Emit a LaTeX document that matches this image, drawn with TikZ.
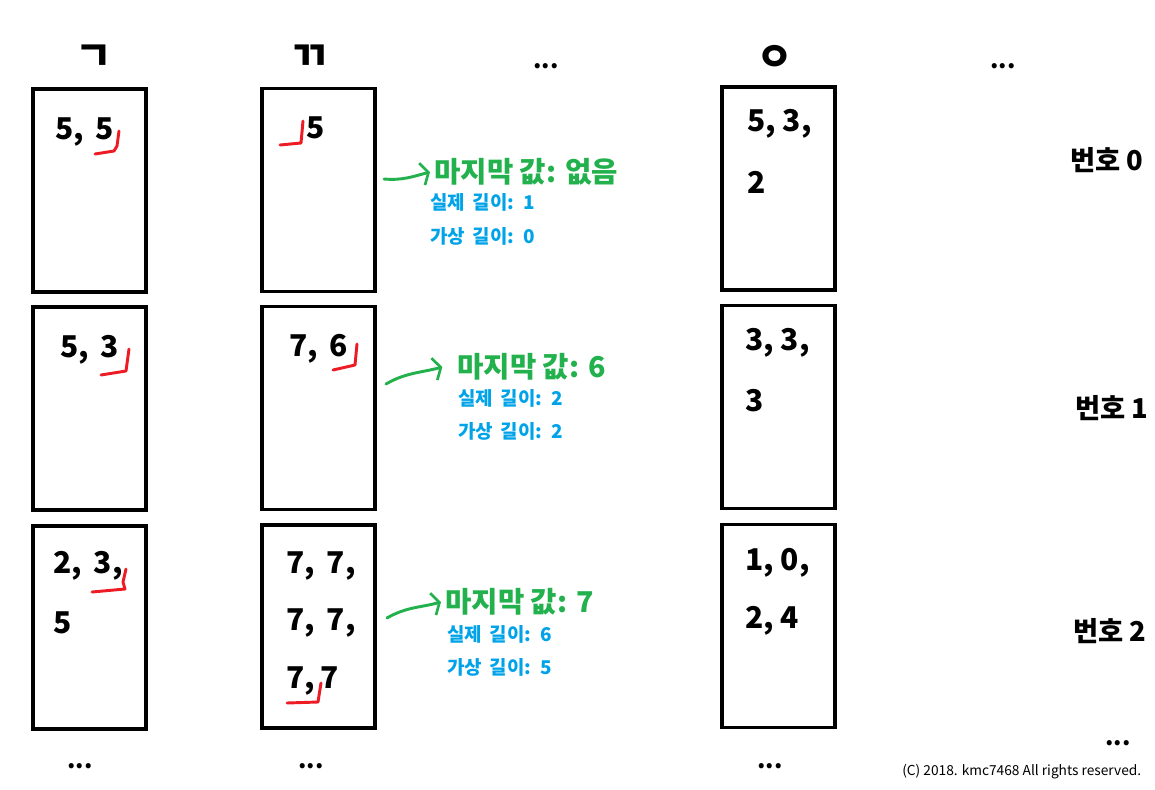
\documentclass[tikz,border=0pt]{standalone}
\usepackage{fontspec}
\setmainfont{Noto Sans CJK KR}
\newfontfamily\widefont{Noto Sans CJK KR}[WordSpace=1.8]
\usetikzlibrary{arrows.meta}
\usetikzlibrary{positioning}
\definecolor{lgreen}{RGB}{34,177,76}
\definecolor{lblue}{RGB}{0,162,232}
\definecolor{lred}{RGB}{237,28,36}

\begin{document}
\begin{tikzpicture}[x=0.75pt,y=-0.75pt]
        \tikzset{cell/.style = {draw,line width=2.6pt,minimum width=84.75pt,minimum height=152.25pt,inner sep=0}}
        \tikzset{head/.style = {font=\bfseries\fontsize{30}{34}\selectfont,inner sep=0}}
        \tikzset{dots/.style = {font=\bfseries\fontsize{18}{22}\selectfont,inner sep=0}}
        \tikzset{num/.style = {font=\bfseries\fontsize{22.5}{26}\selectfont,anchor=west,inner sep=0}}
        \tikzset{idx/.style = {font=\bfseries\fontsize{20.5}{24}\selectfont,anchor=west,inner sep=0}}
        \tikzset{last/.style = {font=\bfseries\fontsize{21.5}{25}\selectfont,color=lgreen,anchor=west,inner sep=0}}
        \tikzset{len/.style = {font=\widefont\bfseries\fontsize{14.2}{17}\selectfont,color=lblue,anchor=west,inner sep=0}}
        \tikzset{note/.style = {font=\fontsize{10.3}{12}\selectfont,anchor=west,inner sep=0}}
        \tikzset{red_mark/.style = {draw=lred,line width=2.2pt,line cap=round,line join=round}}
        \tikzset{last_edge/.style = {-{Straight Barb[length=5pt,width=17pt,line width=2pt]},draw=lgreen,line width=2.2pt,line cap=round}}

        \useasboundingbox (0,0) rectangle (1155,789);

        \node[head] (h0) at (94,58) {ㄱ}; \node[head] (h1) at (310,58) {ㄲ}; \node[dots] (h2) at (546,66) {...}; \node[head] (h3) at (775,58) {ㅇ}; \node[dots] (h4) at (1003,66) {...};

        \node[cell] (c0r0) at (89.5,190.5) {}; \node[cell] (c0r1) at (89.5,408.5) {}; \node[cell] (c0r2) at (89.5,627.5) {};
        \node[cell] (c1r0) at (318.5,190) {}; \node[cell] (c1r1) at (318.5,408) {}; \node[cell] (c1r2) at (318.5,626.5) {};
        \node[cell] (c2r0) at (778.5,188.5) {}; \node[cell] (c2r1) at (778.5,407) {}; \node[cell] (c2r2) at (778.5,626) {};

        \node[num] (t0r0) at (55,132) {5,\, 5};
        \node[num] (t0r1) at (60,350) {5,\, 3};
        \node[num] (t0r2a) at (53,566) {2,\, 3,}; \node[num] (t0r2b) at (53,623) {5};
        \node[num] (t1r0) at (306,128) {5};
        \node[num] (t1r1) at (289,349) {7,\, 6};
        \node[num] (t1r2a) at (286,566) {7,\, 7,}; \node[num] (t1r2b) at (286,623) {7,\, 7,}; \node[num] (t1r2c) at (286,681) {7,\,7};
        \node[num] (t2r0a) at (747,124) {5, 3,}; \node[num] (t2r0b) at (747,182) {2};
        \node[num] (t2r1a) at (745,343) {3, 3,}; \node[num] (t2r1b) at (745,401) {3};
        \node[num] (t2r2a) at (745,563) {1, 0,}; \node[num] (t2r2b) at (745,621) {2, 4};

        \draw[red_mark] (119,131) -- (117,146) -- (114,151) -- (95,154);
        \draw[red_mark] (129,349) -- (126,371) -- (101,375);
        \draw[red_mark] (126,569) -- (123,582) -- (125,589) -- (92,592);
        \draw[red_mark] (303,121) -- (301,143) -- (280,145);
        \draw[red_mark] (357,344) -- (355,365) -- (333,370);
        \draw[red_mark] (321,683) -- (318,702) -- (287,703);

        \node[last] (m0) at (434,172) {마지막 값: 없음};
        \node[len] (r0) at (430,202) {실제 길이: 1}; \node[len] (v0) at (430,236) {가상 길이: 0};
        \node[last] (m1) at (457,367) {마지막 값: 6};
        \node[len] (r1) at (458,398) {실제 길이: 2}; \node[len] (v1) at (458,431) {가상 길이: 2};
        \node[last] (m2) at (445,602) {마지막 값: 7};
        \node[len] (r2) at (447,634) {실제 길이: 6}; \node[len] (v2) at (447,667) {가상 길이: 5};

        \coordinate (a0) at (384,179); \coordinate (a1) at (386,384); \coordinate (a2) at (387,618);
        \draw[last_edge] (a0) to[out=-5,in=195] ([xshift=-3pt]m0.west);
        \draw[last_edge] (a1) to[out=30,in=195] ([xshift=-11pt]m1.west);
        \draw[last_edge] (a2) to[out=30,in=195] ([xshift=-3pt]m2.west);

        \node[idx] (n0) at (1070,160) {번호 0}; \node[idx] (n1) at (1075,408) {번호 1}; \node[idx] (n2) at (1073,631) {번호 2};

        \node[dots] (d0) at (80,766) {...}; \node[dots] (d1) at (311,766) {...}; \node[dots] (d2) at (770,766) {...}; \node[dots] (d3) at (1118,743) {...};
        \node[note] (cr) at (902,772) {(C) 2018. kmc7468 All rights reserved.};
\end{tikzpicture}
\end{document}
